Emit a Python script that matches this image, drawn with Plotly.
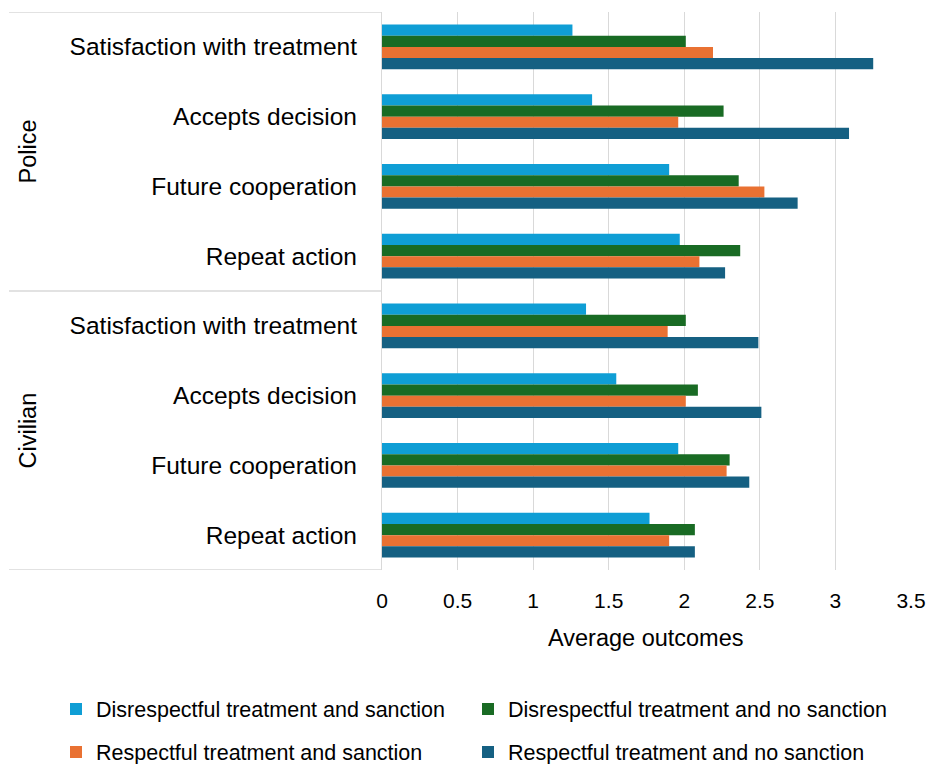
import plotly.graph_objects as go

# ---- data ----
groups = ["Police", "Civilian"]
measures = ["Satisfaction with treatment", "Accepts decision", "Future cooperation", "Repeat action"]
category_labels = measures + measures  # Police block then Civilian block

series_names = [
    "Disrespectful treatment and sanction",
    "Disrespectful treatment and no sanction",
    "Respectful treatment and sanction",
    "Respectful treatment and no sanction",
]
disresp_sanction = [1.26, 1.39, 1.90, 1.97, 1.35, 1.55, 1.96, 1.77]
disresp_nosanction = [2.01, 2.26, 2.36, 2.37, 2.01, 2.09, 2.30, 2.07]
resp_sanction = [2.19, 1.96, 2.53, 2.10, 1.89, 2.01, 2.28, 1.90]
resp_nosanction = [3.25, 3.09, 2.75, 2.27, 2.49, 2.51, 2.43, 2.07]
series_values = [disresp_sanction, disresp_nosanction, resp_sanction, resp_nosanction]

x_ticks = [0, 0.5, 1, 1.5, 2, 2.5, 3, 3.5]
x_tick_text = ["0", "0.5", "1", "1.5", "2", "2.5", "3", "3.5"]
x_title = "Average outcomes"

colors = ["#0F9ED5", "#196B24", "#E97132", "#156082"]

FONT = "Liberation Sans"
W, H = 928, 764
# plot area in screen pixels: x 382..911, y 12..570
L, T = 382, 12
R = W - 911
B = H - 570
plot_w = W - L - R
plot_h = H - T - B

def px_x(px):  # screen px -> paper x
    return (px - L) / plot_w

def px_y(py):  # screen py -> paper y
    return (H - B - py) / plot_h

y_pos = list(range(len(category_labels)))

# legend placement (screen px: left edge, row centre)
legend_keys = ["legend", "legend2", "legend3", "legend4"]
legend_pos = [(56, 709), (468, 709), (56, 752), (468, 752)]

fig = go.Figure()
for name, vals, col, lg in zip(series_names, series_values, colors, legend_keys):
    fig.add_trace(go.Bar(
        y=y_pos, x=vals, name=name, orientation="h",
        marker=dict(color=col, line=dict(width=0)),
        legend=lg,
    ))

grid_col = "#d9d9d9"
legend_layouts = {}
for lg, (lx, ly) in zip(legend_keys, legend_pos):
    legend_layouts[lg] = dict(
        orientation="h", x=px_x(lx), y=px_y(ly), xanchor="left", yanchor="middle",
        font=dict(size=21.5, family=FONT, color="#000"),
        bgcolor="rgba(0,0,0,0)",
    )

fig.update_layout(
    width=W, height=H,
    margin=dict(l=L, r=R, t=T, b=B, pad=0, autoexpand=False),
    paper_bgcolor="white", plot_bgcolor="white",
    barmode="group", bargap=0.355, bargroupgap=0,
    font=dict(family=FONT, color="#000000"),
    xaxis=dict(
        range=[0, 3.5], tickvals=x_ticks, ticktext=x_tick_text,
        showgrid=True, gridcolor=grid_col, gridwidth=1.3,
        zeroline=False, showline=False, automargin=False,
        tickfont=dict(size=21, family=FONT, color="#000"),
        ticks="", ticklabelstandoff=16, ticklabeloverflow="allow",
    ),
    yaxis=dict(
        range=[7.5, -0.5], tickvals=y_pos, ticktext=category_labels,
        showgrid=False, zeroline=False, automargin=False,
        showline=True, linecolor=grid_col, linewidth=1.3,
        tickfont=dict(size=24.5, family=FONT, color="#000"),
        ticks="", ticklabelstandoff=19,
    ),
    showlegend=True,
    **legend_layouts,
)

# x-axis title
fig.add_annotation(
    text=x_title, xref="paper", yref="paper", x=px_x(646), y=px_y(638),
    showarrow=False, xanchor="center", yanchor="middle",
    font=dict(size=23.5, family=FONT, color="#000"),
)

# frame lines of the grouped category axis
x_left = px_x(9)
for yb in [-0.5, 3.5, 7.5]:
    fig.add_shape(type="line", xref="paper", yref="y", x0=x_left, x1=0, y0=yb, y1=yb,
                  line=dict(color=grid_col, width=1.3))

# group labels
for gi, g in enumerate(groups):
    fig.add_annotation(
        text=g, xref="paper", yref="y", x=px_x(27), y=gi * 4 + 1.5,
        textangle=-90, showarrow=False, xanchor="center", yanchor="middle",
        font=dict(size=23.5, family=FONT, color="#000"),
    )

fig.write_html(
    "out.html",
    config={"displayModeBar": False},
    post_script="document.body.style.margin='0';document.body.style.overflow='hidden';",
)
